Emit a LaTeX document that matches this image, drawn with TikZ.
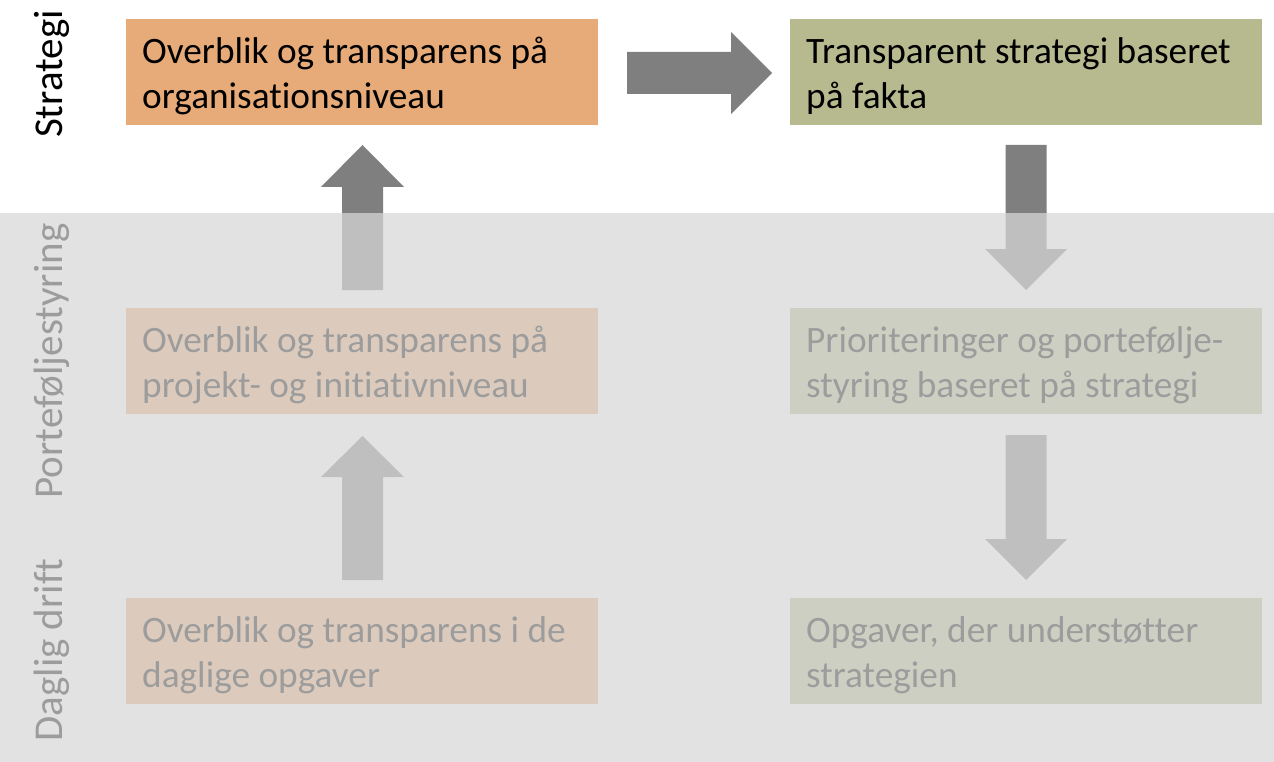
\documentclass[tikz,border=0pt]{standalone}
\usepackage{fontspec}
\setmainfont[Ligatures={NoCommon}]{Carlito}
\definecolor{orangebox}{RGB}{231,171,121}
\definecolor{greenbox}{RGB}{183,186,142}
\definecolor{arrowgray}{RGB}{127,127,127}
\definecolor{veil}{RGB}{216,216,216}
\begin{document}
\begin{tikzpicture}[x=1pt,y=-1pt,
  box/.style={draw=none,anchor=north west,minimum width=472pt,minimum height=106pt,inner sep=0pt},
  txt/.style={anchor=north west,inner sep=0pt,align=left,
    font={\fontsize{37.3}{45}\selectfont},text=black},
  side/.style={rotate=90,anchor=base,inner sep=0pt,font={\fontsize{41}{49}\selectfont},text=black},
  blockarrow/.style={fill=arrowgray,draw=none}]
\useasboundingbox (0,0) rectangle (1274,762);
\fill[white] (0,0) rectangle (1274,762);
% boxes
\node[box,fill=orangebox] (b1) at (126,19) {};
\node[box,fill=greenbox]  (b2) at (790,19) {};
\node[box,fill=orangebox] (b3) at (126,308) {};
\node[box,fill=greenbox]  (b4) at (790,308) {};
\node[box,fill=orangebox] (b5) at (126,598) {};
\node[box,fill=greenbox]  (b6) at (790,598) {};
% texts
\node[txt] (t1) at ([xshift=16pt,yshift=-9pt]b1.north west) {\rule{0pt}{35pt}Overblik og transparens på\\organisationsniveau};
\node[txt] (t2) at ([xshift=16pt,yshift=-9pt]b2.north west) {\rule{0pt}{35pt}Transparent strategi baseret\\på fakta};
\node[txt] (t3) at ([xshift=16pt,yshift=-9pt]b3.north west) {\rule{0pt}{35pt}Overblik og transparens på\\projekt- og initiativniveau};
\node[txt] (t4) at ([xshift=16pt,yshift=-9pt]b4.north west) {\rule{0pt}{35pt}Prioriteringer og portefølje-\\styring baseret på strategi};
\node[txt] (t5) at ([xshift=16pt,yshift=-9pt]b5.north west) {\rule{0pt}{35pt}Overblik og transparens i de\\daglige opgaver};
\node[txt] (t6) at ([xshift=16pt,yshift=-9pt]b6.north west) {\rule{0pt}{35pt}Opgaver, der understøtter\\strategien};
% side labels
\node[side] (s1) at (62,74) {Strategi};
\node[side] (s2) at (62,361) {Porteføljestyring};
\node[side] (s3) at (62,650) {Daglig drift};
% block arrows
% right arrow b1 -> b2
\fill[blockarrow] (627,52) -- (731,52) -- (731,32) -- (772,73) -- (731,114) -- (731,94) -- (627,94) -- cycle;
% up arrow b3 -> b1
\fill[blockarrow] (342,290) -- (342,187) -- (321,187) -- (362.5,145) -- (404,187) -- (383,187) -- (383,290) -- cycle;
% down arrow b2 -> b4
\fill[blockarrow] (1005.5,145) -- (1046.5,145) -- (1046.5,249) -- (1067,249) -- (1026,290) -- (985,249) -- (1005.5,249) -- cycle;
% up arrow b5 -> b3
\fill[blockarrow] (342,580) -- (342,477) -- (321,477) -- (362.5,436) -- (404,477) -- (383,477) -- (383,580) -- cycle;
% down arrow b4 -> b6
\fill[blockarrow] (1005.5,435) -- (1046.5,435) -- (1046.5,539) -- (1067,539) -- (1026,580) -- (985,539) -- (1005.5,539) -- cycle;
% veil over the lower levels
\fill[veil,fill opacity=0.727] (0,213) rectangle (1274,762);
\end{tikzpicture}
\end{document}
